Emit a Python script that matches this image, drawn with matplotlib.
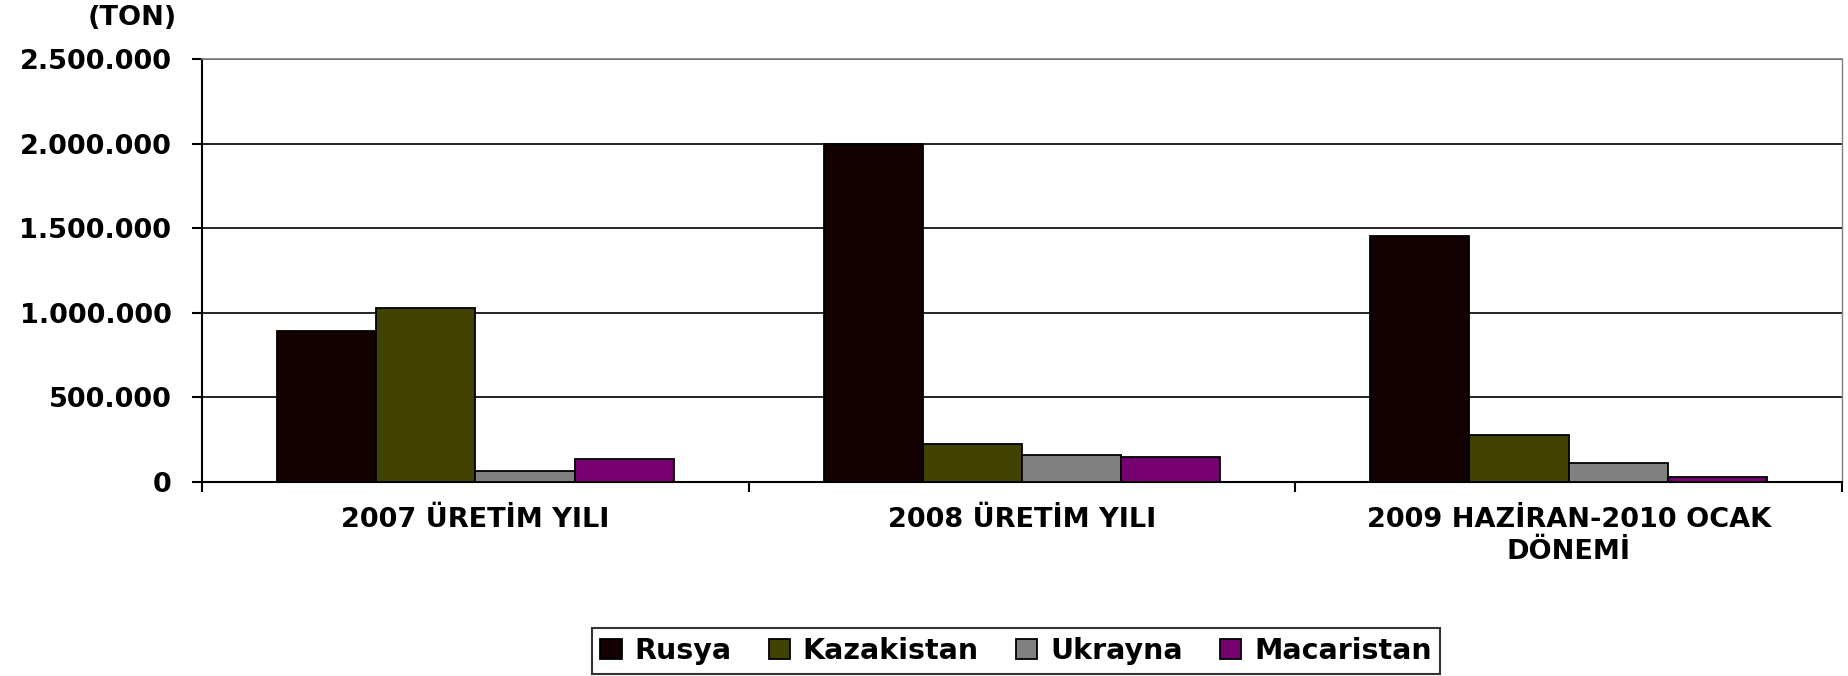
import numpy as np
import matplotlib
matplotlib.use('Agg')
import matplotlib.pyplot as plt
from matplotlib.ticker import FuncFormatter

# data (ton)
categories = ['2007 ÜRETİM YILI', '2008 ÜRETİM YILI', '2009 HAZİRAN-2010 OCAK\nDÖNEMİ']
countries = ['Rusya', 'Kazakistan', 'Ukrayna', 'Macaristan']
rusya = [895000, 2000000, 1452000]
kazakistan = [1028000, 226000, 280000]
ukrayna = [67000, 159000, 110000]
macaristan = [138000, 150000, 29000]
colors = ['#130000', '#424200', '#808080', '#770070']
yticks = [0, 500000, 1000000, 1500000, 2000000, 2500000]

plt.rcParams['font.family'] = ['DejaVu Sans']
plt.rcParams['font.weight'] = 'bold'
FS = 19.5

fig = plt.figure(figsize=(18.49, 6.76), dpi=100)
ax = fig.add_axes([202 / 1849, 1 - 482 / 676, (1842 - 202) / 1849, (482 - 59) / 676])

x = np.arange(len(categories))
w = 0.1815
series = [rusya, kazakistan, ukrayna, macaristan]
for i, (vals, name, c) in enumerate(zip(series, countries, colors)):
    ax.bar(x + (i - 1.5) * w, vals, width=w, color=c, edgecolor='black',
           linewidth=1.3, label=name, zorder=3)

ax.set_xlim(-0.5, 2.5)
ax.set_ylim(0, 2500000)
ax.set_yticks(yticks)
ax.yaxis.set_major_formatter(FuncFormatter(lambda v, p: f'{int(v):,}'.replace(',', '.')))
ax.yaxis.grid(True, color='black', linewidth=1.2, zorder=0)
ax.set_axisbelow(True)

# category boundaries as major ticks, labels on minor ticks
ax.set_xticks([-0.5, 0.5, 1.5, 2.5])
ax.set_xticklabels([])
ax.set_xticks(x, minor=True)
ax.set_xticklabels(categories, minor=True, fontsize=FS, fontweight='bold', linespacing=1.3)
ax.tick_params(axis='x', which='minor', length=0, pad=18)
ax.tick_params(axis='x', which='major', direction='out', length=7, width=1.5)
ax.tick_params(axis='y', direction='out', length=7, width=1.5, labelsize=FS, pad=15)
for lab in ax.get_yticklabels():
    lab.set_fontweight('bold')

ax.spines['left'].set_linewidth(1.5)
ax.spines['bottom'].set_linewidth(1.5)
ax.spines['top'].set_color('#808080')
ax.spines['top'].set_linewidth(1.2)
ax.spines['right'].set_color('#808080')
ax.spines['right'].set_linewidth(1.0)

fig.text(132 / 1849, 1 - 18 / 676, '(TON)', ha='center', va='center',
         fontsize=FS, fontweight='bold')

leg = fig.legend(loc='center', bbox_to_anchor=(1016 / 1849, 1 - 651 / 676), ncol=4,
                 frameon=True, fancybox=False, edgecolor='black',
                 handlelength=0.75, handleheight=0.75, handletextpad=0.45,
                 columnspacing=1.3, borderpad=0.3, borderaxespad=0,
                 prop={'size': FS + 1, 'weight': 'bold'})
leg.get_frame().set_linewidth(1.5)

fig.savefig('out.png', dpi=100, facecolor='white')
